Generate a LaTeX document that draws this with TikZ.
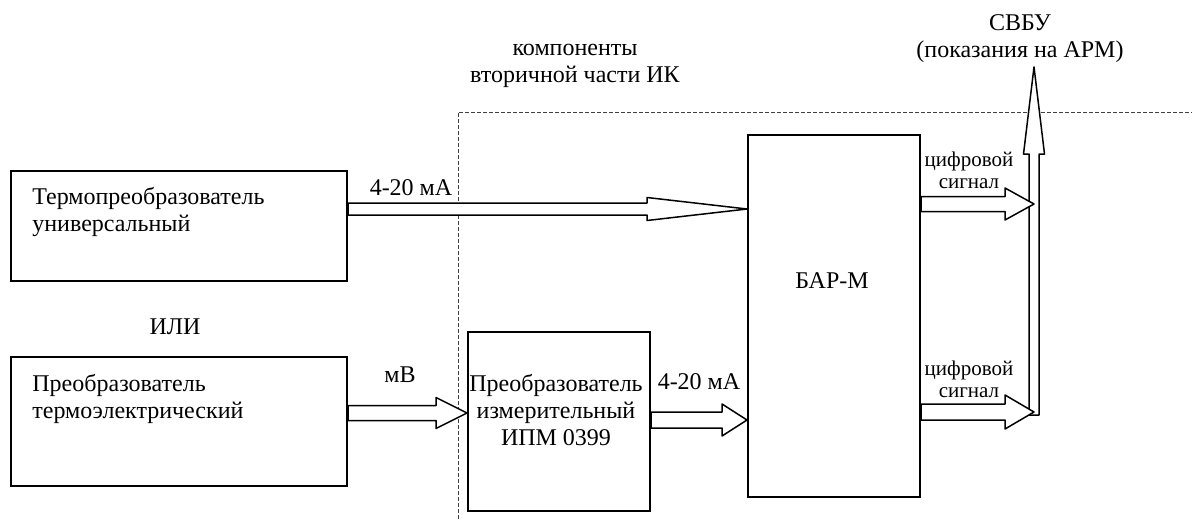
\documentclass[tikz,border=0pt]{standalone}
\usepackage{fontspec}
\setmainfont{Liberation Serif}
\usetikzlibrary{calc}

% hollow block arrow: start, tip, half shaft, half head, head length
\newcommand{\hollowarrow}[5]{%
  \coordinate (ha-s) at (#1);
  \coordinate (ha-t) at (#2);
  \coordinate (ha-h) at ($(ha-t)!#5!(ha-s)$);
  \draw[blockarrow] ($(ha-s)!#3!90:(ha-t)$) -- ($(ha-h)!#3!90:(ha-t)$) -- ($(ha-h)!#4!90:(ha-t)$) -- (ha-t)
    -- ($(ha-h)!#4!-90:(ha-t)$) -- ($(ha-h)!#3!-90:(ha-t)$) -- ($(ha-s)!#3!-90:(ha-t)$) -- cycle;}

\begin{document}
\begin{tikzpicture}[
  x=0.5pt, y=-0.5pt, font=\fontsize{12}{13.5}\selectfont,
  box/.style={draw, line width=1pt, inner sep=0pt},
  txt/.style={inner sep=0pt, align=left},
  lab/.style={inner sep=0pt, align=center},
  sig/.style={lab, font=\fontsize{10.5}{11}\selectfont},
  blockarrow/.style={draw, fill=white, line width=0.75pt, line join=round}]
\useasboundingbox (0,0) rectangle (1192,519);
% border of the secondary part
\draw[dash pattern=on 2pt off 1pt, line width=0.4pt, black!75] (458,519) -- (458,112) -- (1192,112);
\node[lab] (sec) at (575,66) {компоненты\\вторичной части ИК};
% primary transducers
\node[box, minimum width=168pt, minimum height=55pt] (tu) at (179,226) {};
\node[txt, anchor=north west] (tu-txt) at (32,187) {Термопреобразователь\\универсальный};
\node[lab] (ili) at (175,327) {ИЛИ};
\node[box, minimum width=168pt, minimum height=64.5pt] (tp) at (179,421.5) {};
\node[txt, anchor=north west] (tp-txt) at (32,374) {Преобразователь\\термоэлектрический};
% secondary part
\node[box, minimum width=91pt, minimum height=89.5pt] (ipm) at (559,421.5) {};
\node[lab] (ipm-txt) at (556,410) {Преобразователь\\измерительный\\ИПМ 0399};
\node[box, minimum width=86pt, minimum height=181pt] (bar) at (834,316) {};
\node[lab] (bar-txt) at (832,281) {БАР-М};
% output bus
\coordinate (bus-bot) at (1034,415);
\coordinate (bus-top) at (1034,67);
\node[lab] (svbu) at (1020,39) {СВБУ\\(показания на АРМ)};
% signals
\hollowarrow{tu.east |- 0,209}{bar.west |- 0,209}{3pt}{5.75pt}{50pt}
\node[lab] (i1) at (411,188) {4-20 мА};
\hollowarrow{tp.east |- 0,413}{ipm.west |- 0,413}{3.75pt}{7.75pt}{15.5pt}
\node[lab] (mv) at (400,375) {мВ};
\hollowarrow{ipm.east |- 0,420}{bar.west |- 0,420}{4pt}{8pt}{12.5pt}
\node[lab] (i2) at (699,382) {4-20 мА};
\hollowarrow{bus-bot}{bus-top}{2.5pt}{5.25pt}{43.5pt}
\hollowarrow{bar.east |- 0,204}{bus-bot |- 0,204}{3.75pt}{8pt}{14.5pt}
\node[sig] (d1) at (969,170) {цифровой\\сигнал};
\hollowarrow{bar.east |- 0,412}{bus-bot |- 0,412}{4pt}{8.5pt}{14.5pt}
\node[sig] (d2) at (969,379) {цифровой\\сигнал};
\end{tikzpicture}
\end{document}
